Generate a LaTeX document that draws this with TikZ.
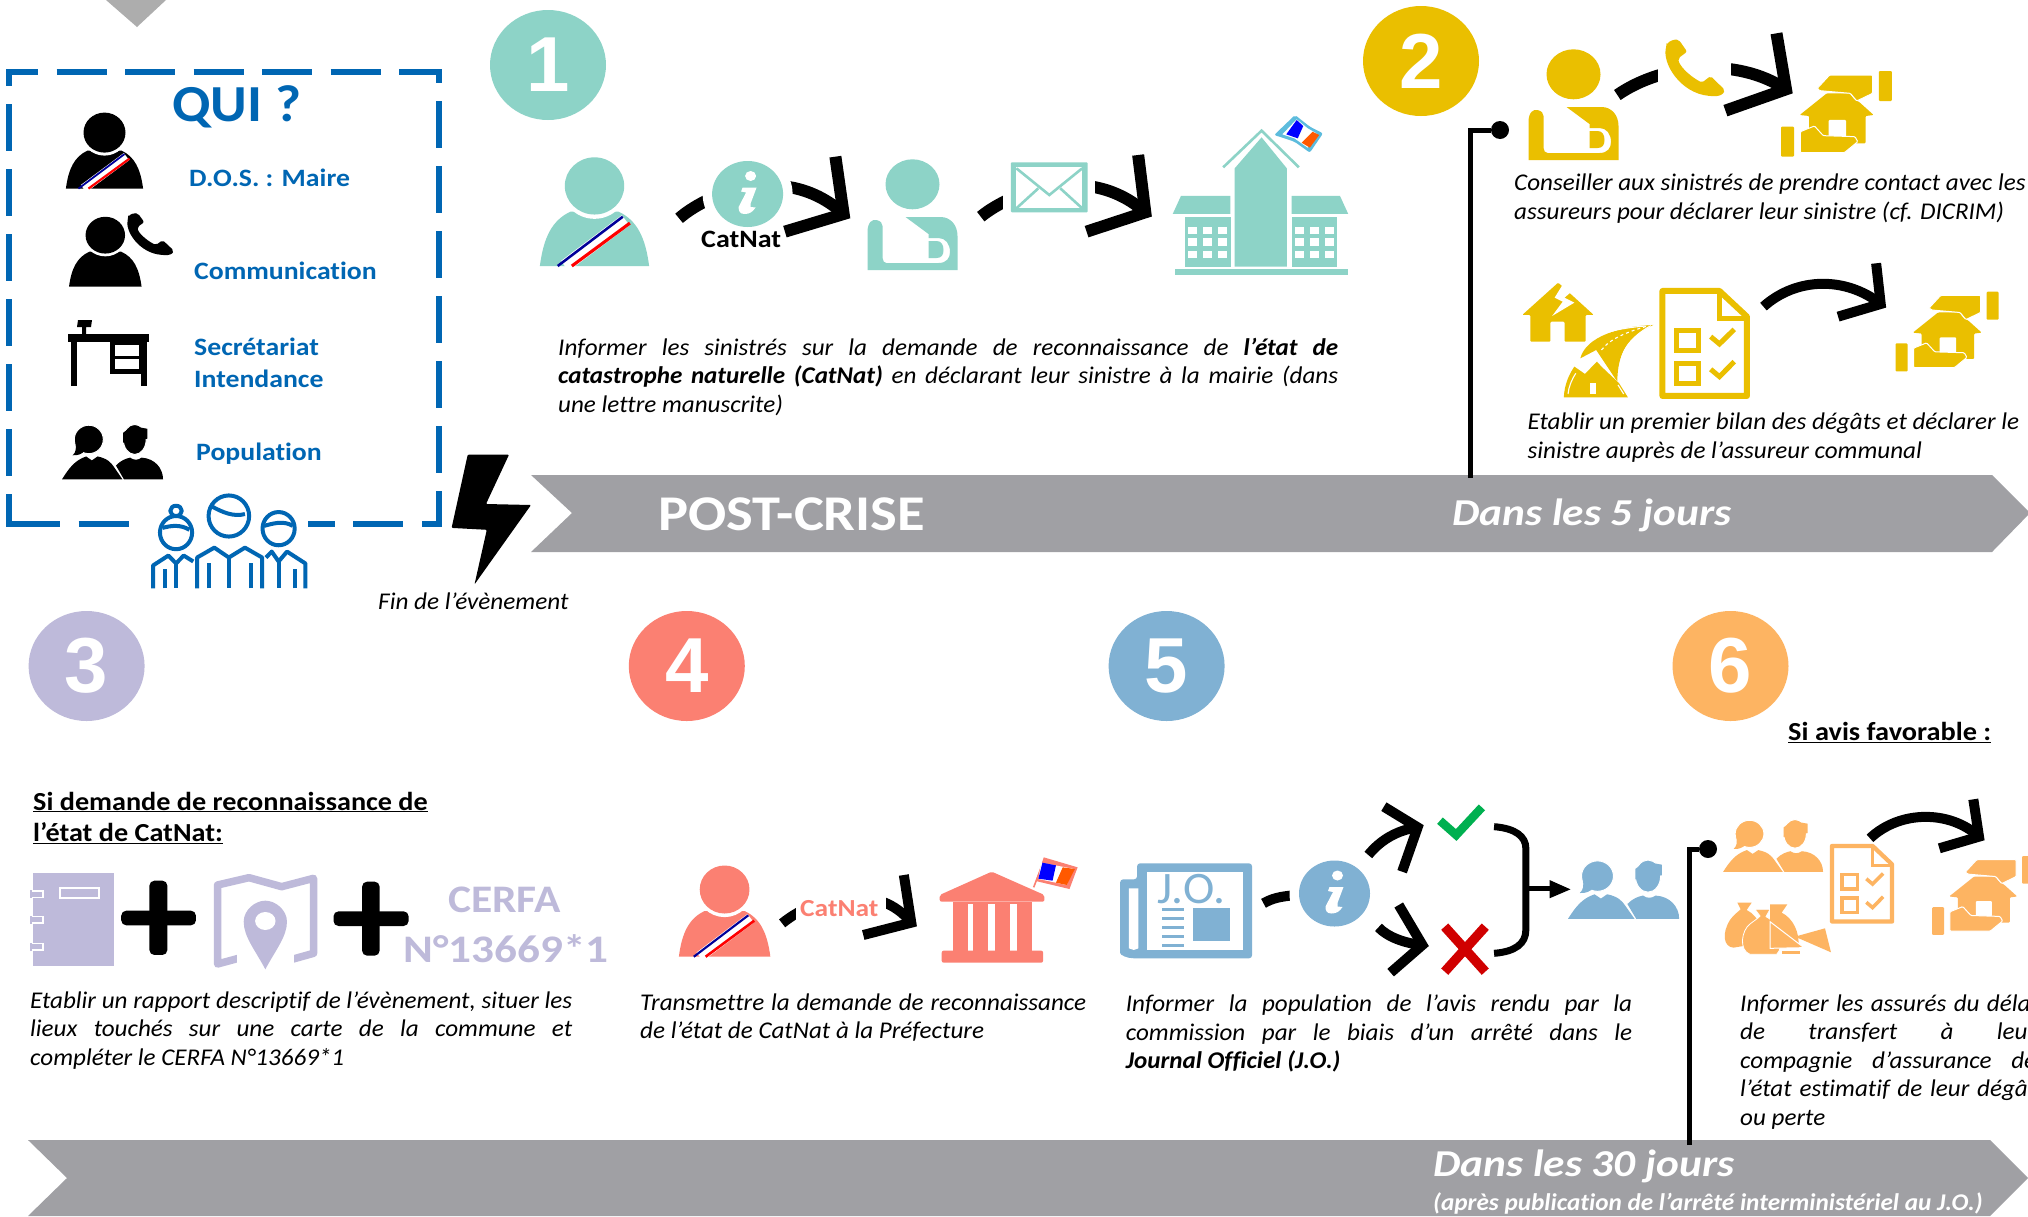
\documentclass[tikz,border=0pt]{standalone}
\usepackage{fontspec}
\setmainfont{Carlito}[Ligatures=NoCommon]
\newfontfamily\libsans{Liberation Sans}
\definecolor{cteal}{HTML}{8DD3C7}
\definecolor{cyel}{HTML}{EABF00}
\definecolor{clav}{HTML}{BEBADA}
\definecolor{csal}{HTML}{FB8072}
\definecolor{cblu}{HTML}{80B1D3}
\definecolor{cora}{HTML}{FDB462}
\definecolor{cband}{HTML}{A0A0A4}
\definecolor{cdark}{HTML}{0066B3}
\definecolor{cgreen}{HTML}{00B050}
\definecolor{cred}{HTML}{D00000}
\definecolor{ctri}{HTML}{ADADAD}
\newcommand\wide[1]{\addfontfeature{FakeStretch=#1}}
\tikzset{
  arrowstroke/.style={draw=black,line width=12pt,miter limit=10},
  thinarrow/.style={draw=black,line width=10pt,miter limit=10},
  boxline/.style={draw=cdark,line width=6pt},
  crowdline/.style={draw=cdark,line width=4pt,line join=round},
  stemline/.style={draw=black,line width=5pt},
  numdisc/.style={ellipse,inner sep=0pt,minimum width=116pt,minimum height=110pt,text=white,font=\libsans\bfseries\fontsize{78}{78}\selectfont},
  lab/.style={anchor=base west,inner sep=0pt},
  quilab/.style={lab,text=cdark,font=\bfseries\fontsize{25}{25}\selectfont\wide{1.11}},
  plainit/.style={lab,font=\itshape\fontsize{24}{28.5}\selectfont\wide{1.045}},
  headlab/.style={lab,font=\bfseries\fontsize{26}{26}\selectfont\wide{1.085}},
  daylab/.style={lab,text=white,font=\bfseries\itshape\fontsize{38}{38}\selectfont\wide{1.14}},
}
\usetikzlibrary{shapes.geometric}
\newcommand\bodytext[5]{% name, x, baseline, width, text
  \node[anchor=north west,inner sep=0pt,text width=#4pt,align=justify,font=\itshape\fontsize{24}{28.5}\selectfont\wide{1.045}] (#1) at (#2,#3-20) {\rule{0pt}{20pt}#5};}
\newcommand\bodyshape[1]{(-38.6,0) .. controls (-36,-20) and (-30,-32) .. (-17,-38) -- (17,-38) .. controls (30,-32) and (36,-20) .. (38.6,0) -- cycle}
\newcommand\persash[5]{% colour x y sx sy
  \begin{scope}[shift={(#2,#3)},xscale=#4,yscale=#5]
    \fill[#1] \bodyshape{};
    \fill[white] (0,-56) ellipse [x radius=23.5,y radius=23];
    \fill[#1] (0,-56) ellipse [x radius=21,y radius=20];
    \draw[white,line width=#4*9pt] (-21,0) -- (22,-32);
    \draw[blue!60!black,line width=#4*1.8pt] (-26,0) -- (20,-34.5);
    \draw[red,line width=#4*2.2pt] (-16,0) -- (25,-30);
  \end{scope}}
\newcommand\perplain[5]{%
  \begin{scope}[shift={(#2,#3)},xscale=#4,yscale=#5]
    \fill[#1] \bodyshape{};
    \fill[white] (0,-56) ellipse [x radius=23.5,y radius=23];
    \fill[#1] (0,-56) ellipse [x radius=21,y radius=20];
  \end{scope}}
\newcommand\persling[3]{% colour x y (bottom centre)
  \begin{scope}[shift={(#2,#3)}]
    \fill[#1] (0,-85.7) ellipse [x radius=27,y radius=25];
    \fill[#1] (-45,0) -- (-45,-38) .. controls (-45,-48) and (-40,-51) .. (-36,-50) .. controls (-32,-49) and (-30,-47) .. (-30,-44) -- (-30,-12) .. controls (-30,-9) and (-28,-7) .. (-26,-7) -- (26,-7) .. controls (34,-7) and (37.5,-12) .. (37.5,-18) .. controls (37.5,-26) and (33,-32) .. (26,-32) -- (16,-32) -- (16,-36) -- (-7,-53) -- (28,-53) .. controls (38,-53) and (45,-45) .. (45,-34) -- (45,0) -- cycle;
    \fill[#1] (16,-29) -- (24,-29) .. controls (29,-29) and (31,-25) .. (31,-20) .. controls (31,-15) and (29,-12) .. (24,-12) -- (16,-12) -- cycle;
  \end{scope}}
\newcommand\househands[4]{% colour x y scale
  \begin{scope}[shift={(#2,#3)},xscale=#4*0.3521,yscale=#4*0.3333,shift={(-855,-213)},rounded corners=1pt]
    \fill[#1] (1133,213) rectangle (1170,303);
    \fill[#1] (855,380) rectangle (892,470);
    \fill[#1] (908,345) -- (985,280) -- (1050,280) -- (1062,297) -- (1078,307) -- (1118,345) -- (1095,348) -- (1095,430) -- (935,430) -- (935,348) -- cycle;
    \fill[white] (990,360) rectangle (1040,410);
    \fill[#1,draw=white,line width=1pt] (958,265) -- (993,225) -- (1115,225) -- (1115,280) -- (1070,303) -- (1052,280) -- (965,272) -- cycle;
    \fill[#1,draw=white,line width=1pt] (910,395) -- (950,378) -- (975,407) -- (1065,410) -- (1073,425) -- (1035,458) -- (910,458) -- cycle;
  \end{scope}}
\newcommand\checklist[5]{% colour x y sx sy
  \begin{scope}[shift={(#2,#3)},xscale=#4*0.3521,yscale=#5*0.3333,shift={(-510,-865)}]
    \draw[#1,line width=#4*6pt,line join=round] (518,873) -- (680,873) -- (758,950) -- (758,1188) -- (518,1188) -- cycle;
    \draw[#1,line width=#4*5pt] (680,873) -- (680,955) -- (758,955);
    \draw[#1,line width=#4*5pt] (558,992) rectangle (620,1052);
    \draw[#1,line width=#4*5pt] (558,1090) rectangle (620,1150);
    \draw[#1,line width=#4*5pt] (655,1010) -- (680,1032) -- (722,988);
    \draw[#1,line width=#4*5pt] (655,1108) -- (680,1130) -- (722,1085);
  \end{scope}}
\newcommand\phonecurve[5]{% colour x y sx sy
  \begin{scope}[shift={(#2,#3)},xscale=#4*0.3521,yscale=#5*0.3333,shift={(-525,-120)}]
    \fill[#1,rounded corners=2pt] (530,135) .. controls (515,190) and (570,280) .. (655,288) .. controls (675,290) and (690,285) .. (695,270) -- (655,228) -- (630,248) .. controls (590,225) and (565,195) .. (563,175) -- (588,155) -- (565,120) .. controls (552,118) and (538,122) .. (530,135) -- cycle;
  \end{scope}}
\newcommand\couplefig[5]{% colour x y sx sy
  \begin{scope}[shift={(#2,#3)},xscale=#4*0.3827,yscale=#5*0.3954,shift={(-162,-1078)}]
    \fill[#1] (162,1213) .. controls (180,1185) and (195,1165) .. (225,1155) -- (240,1165) -- (255,1155) .. controls (280,1160) and (290,1170) .. (298,1182) -- (320,1213) -- cycle;
    \fill[#1] (303,1178) .. controls (315,1165) and (330,1160) .. (340,1158) .. controls (350,1165) and (360,1165) .. (370,1158) .. controls (405,1160) and (426,1185) .. (426,1213) -- (324,1213) -- cycle;
    \fill[#1,draw=white,line width=1pt] (232,1112) ellipse [x radius=38,y radius=36];
    \fill[#1] (197,1120) .. controls (200,1135) and (198,1145) .. (190,1152) .. controls (205,1153) and (215,1148) .. (222,1140) -- cycle;
    \fill[#1,draw=white,line width=1pt] (352,1112) ellipse [x radius=30,y radius=38];
    \fill[#1] (322,1095) -- (345,1078) -- (385,1085) -- (385,1110) -- (322,1120) -- cycle;
  \end{scope}}
\newcommand\infodisc[3]{% colour x y
  \begin{scope}[shift={(#2,#3)}]
    \fill[white] (0,0) ellipse [x radius=45,y radius=42];
    \fill[#1] (0,0) ellipse [x radius=35.5,y radius=33];
    \fill[white] (3,-18) ellipse [x radius=5.5,y radius=5];
    \fill[white] (-5,-6.5) -- (9,-6.5) -- (3,9.5) -- (3,13) -- (8,13.5) .. controls (5,18) and (2,20) .. (-3,20) .. controls (-8,20) and (-9,17) .. (-9,13) -- (-1.5,-1.5) -- (-6.5,-2.5) -- cycle;
  \end{scope}}
\begin{document}
\begin{tikzpicture}[x=1pt,y=-1pt]
\useasboundingbox (0,0) rectangle (2028,1216);
\fill[white] (0,0) rectangle (2028,1216);
% top tab
\fill[ctri] (106,0) -- (166,0) -- (137,27) -- cycle;
% dashed box
\draw[boxline,dash pattern=on 50pt off 18.5pt,dash phase=18pt] (6,71.5) -- (440,71.5);
\draw[boxline,dash pattern=on 46.5pt off 18.5pt,dash phase=30pt] (9,69) -- (9,527);
\draw[boxline,dash pattern=on 46.5pt off 18.5pt,dash phase=33pt] (439,69) -- (439,527);
\draw[boxline] (6,524) -- (60,524) (78.5,524) -- (128.5,524) (308,524) -- (335,524) (353,524) -- (403,524) (422,524) -- (442,524);
\node[lab,text=cdark,font=\bfseries\fontsize{52}{52}\selectfont\wide{1.08}] (qui) at (172,121) {QUI ?};
\node[quilab] (dos) at (189,186) {D.O.S. : Maire};
\node[quilab] (comm) at (194,279) {Communication};
\node[quilab] (sec) at (194,355.5) {Secrétariat};
\node[quilab] (int) at (194,387.5) {Intendance};
\node[quilab] (pop) at (196,460) {Population};
\persash{black}{104.5}{188.6}{1}{1}
\perplain{black}{105.3}{286.7}{0.94}{0.92}
\phonecurve{black}{127}{213.5}{0.78}{0.74}
% desk
\fill[black] (68,334) rectangle (148.5,342);
\fill[black] (71,342) rectangle (76.5,385.5);
\fill[black] (141,342) rectangle (146.6,385.5);
\fill[black] (110,342) rectangle (146,374);
\fill[white] (115,345) rectangle (139,356);
\fill[white] (115,359) rectangle (139,369);
\fill[black] (78,320) -- (92,320) -- (91,327) -- (86,327) -- (86,334) -- (82,334) -- (82,327) -- (77,327) -- cycle;
\couplefig{black}{62}{426}{1}{1}
% crowd
\begin{scope}[xscale=0.3827,yscale=0.3954]
  \draw[crowdline] (598,1305) ellipse [x radius=53,y radius=52];
  \draw[crowdline] (552,1280) .. controls (580,1295) and (610,1308) .. (640,1300);
  \draw[crowdline] (515,1488) -- (515,1410) -- (560,1385) -- (598,1410) -- (640,1385) -- (685,1410) -- (685,1488);
  \draw[crowdline] (598,1410) -- (598,1488) (545,1488) -- (545,1425) (655,1488) -- (655,1425);
  \draw[crowdline] (460,1347) ellipse [x radius=42,y radius=42];
  \draw[crowdline] (460,1292) ellipse [x radius=15,y radius=13];
  \draw[crowdline] (425,1335) .. controls (445,1330) and (470,1325) .. (495,1340);
  \draw[crowdline] (400,1488) -- (400,1430) -- (440,1405) -- (460,1425) -- (480,1405) -- (505,1420);
  \draw[crowdline] (460,1425) -- (460,1488) (430,1488) -- (430,1440);
  \draw[crowdline] (728,1337) ellipse [x radius=42,y radius=42];
  \draw[crowdline] (690,1330) .. controls (710,1325) and (740,1315) .. (765,1330);
  \draw[crowdline] (695,1410) -- (710,1395) -- (728,1420) -- (750,1395) -- (798,1425) -- (798,1488);
  \draw[crowdline] (728,1420) -- (728,1488) (770,1488) -- (770,1440);
\end{scope}
% lightning
\fill[black,rounded corners=1pt] (467.7,454.7) -- (509,454.7) -- (486,504) -- (531,505) -- (474.5,584.4) -- (486.8,529.8) -- (451.6,527.9) -- cycle;
\node[lab,font=\itshape\fontsize{24}{28}\selectfont\wide{1.05}] (fin) at (378,609) {Fin de l’évènement};
% bands
\fill[cband] (531,475) -- (1992,475) -- (2030,513) -- (1992,552) -- (531,552) -- (572,513) -- cycle;
\fill[cband] (28,1140) -- (1990,1140) -- (2028,1178) -- (1990,1216) -- (28,1216) -- (67,1178) -- cycle;
\node[lab,text=white,font=\bfseries\fontsize{50}{50}\selectfont\wide{1.13}] (post) at (658,530) {POST-CRISE};
\node[daylab] (d5) at (1452,525) {Dans les 5 jours};
\node[daylab] (d30) at (1433,1176) {Dans les 30 jours};
\node[lab,text=white,font=\bfseries\itshape\fontsize{24}{24}\selectfont\wide{1.05}] (d30b) at (1433,1210) {(après publication de l’arrêté interministériel au J.O.)};
% stems
\node[circle,fill=black,inner sep=0pt,minimum size=18pt] (dot1) at (1500,130) {};
\coordinate (foot1) at (1470,478);
\draw[stemline] (foot1) |- (dot1);
\node[circle,fill=black,inner sep=0pt,minimum size=18pt] (dot2) at (1708,849) {};
\coordinate (foot2) at (1689.7,1145);
\draw[stemline] (foot2) |- (dot2);
% number discs
\node[numdisc,fill=cteal] (n1) at (548,65) {1};
\node[numdisc,fill=cyel] (n2) at (1421,61) {2};
\node[numdisc,fill=clav] (n3) at (86.6,666) {3};
\node[numdisc,fill=csal] (n4) at (686.8,666) {4};
\node[numdisc,fill=cblu] (n5) at (1166.6,666) {5};
\node[numdisc,fill=cora] (n6) at (1730.5,666) {6};
% panel 1
\persash{cteal}{594.5}{266}{1.415}{1.43}
\persling{cteal}{912.5}{270}
\begin{scope}[shift={(520,100)},xscale=0.5485,yscale=0.3333]
  \draw[arrowstroke] (290,355) .. controls (350,270) and (490,190) .. (590,342);
  \draw[arrowstroke] (575,170) -- (590,342) -- (483,395);
  \draw[arrowstroke] (840,350) .. controls (900,270) and (1040,190) .. (1140,337);
  \draw[arrowstroke] (1127,165) -- (1140,337) -- (1033,395);
  \fill[white] (880,170) rectangle (1048,350);
  % envelope
  \fill[cteal,rounded corners=1pt] (895,187) rectangle (1035,337);
  \fill[white] (905,200) rectangle (1025,325);
  \draw[cteal,line width=2.6pt] (905,205) -- (965,285) -- (1025,205);
  \draw[cteal,line width=2.6pt] (905,325) -- (945,265) (1025,325) -- (985,265);
  % mairie
  \fill[cteal] (1303,205) -- (1352,112) -- (1398,205) -- (1398,500) -- (1303,500) -- cycle;
  \draw[cteal,line width=2.6pt] (1282,202) -- (1352,92) -- (1420,202);
  \fill[cteal] (1205,288) -- (1295,288) -- (1295,342) -- (1190,342) -- cycle;
  \fill[cteal] (1407,288) -- (1495,288) -- (1510,342) -- (1407,342) -- cycle;
  \fill[cteal] (1212,352) rectangle (1296,500);
  \fill[cteal] (1407,352) rectangle (1490,500);
  \fill[cteal] (1195,507) rectangle (1510,524);
  \foreach \wx in {1218,1245,1272,1413,1440,1467}
    \foreach \wy in {380,415,452}
      \fill[white] (\wx,\wy) rectangle ++(17,22);
  % flag
  \fill[cyan!45!cteal,rounded corners=2pt] (1413,45) -- (1440,80) -- (1464,100) -- (1440,158) -- (1412,125) -- (1375,105) -- cycle;
  \fill[white] (1416,58) -- (1436,85) -- (1452,100) -- (1436,143) -- (1412,115) -- (1390,103) -- cycle;
  \fill[blue] (1416,60) -- (1428,78) -- (1418,115) -- (1397,103) -- cycle;
  \fill[orange!70!red] (1445,95) -- (1457,105) -- (1440,143) -- (1425,128) -- cycle;
\end{scope}
\infodisc{cteal}{747.6}{194}
\node[lab,font=\bfseries\fontsize{25}{25}\selectfont\wide{1.12}] (cat1) at (701,247.6) {CatNat};
\bodytext{t1}{558}{355}{780}{Informer les sinistrés sur la demande de reconnaissance de \textbf{l’état de}\linebreak \textbf{catastrophe naturelle (CatNat)} en déclarant leur sinistre à la mairie (dans\linebreak une lettre manuscrite)}
% panel 2
\persling{cyel}{1573.5}{160}
\begin{scope}[shift={(1480,0)},xscale=0.3521,yscale=0.3333]
  \draw[arrowstroke] (390,285) .. controls (520,190) and (730,170) .. (869,268);
  \draw[arrowstroke] (842,100) -- (869,268) -- (697,332);
  \fill[white] (505,100) rectangle (712,300);
  \draw[thinarrow] (805,920) .. controls (900,830) and (1040,830) .. (1138,912);
  \draw[thinarrow] (1125,790) -- (1138,912) -- (1017,950);
  % broken house
  \fill[cyel,rounded corners=1pt] (120,945) -- (222,848) -- (323,945) -- (300,945) -- (300,1025) -- (240,1025) -- (240,965) -- (200,965) -- (200,1025) -- (143,1025) -- (143,945) -- cycle;
  \fill[white] (240,845) -- (212,893) -- (235,905) -- (205,948) -- (268,908) -- (240,893) -- (262,873) -- cycle;
  % road
  \fill[cyel] (492,975) .. controls (400,978) and (300,1010) .. (285,1075) -- (330,1050) -- (390,1145) .. controls (390,1060) and (420,1010) .. (492,975) -- cycle;
  \fill[cyel] (268,1100) -- (298,1122) -- (332,1085) -- (345,1100) -- (395,1150) -- (420,1192) -- (238,1192) .. controls (240,1150) and (255,1120) .. (268,1100) -- cycle;
  \draw[white,line width=1.1pt] (300,1035) .. controls (330,1000) and (390,985) .. (470,978);
  \draw[white,line width=1.1pt,dashed] (345,1050) .. controls (370,1015) and (420,995) .. (480,977);
  \draw[white,line width=1.1pt] (398,1100) .. controls (400,1050) and (430,1010) .. (485,977);
  \draw[white,line width=1.1pt] (250,1182) .. controls (252,1160) and (260,1140) .. (272,1120);
  \draw[white,line width=1.1pt] (408,1182) -- (392,1155);
  \fill[white] (312,1148) rectangle (328,1183);
\end{scope}
\phonecurve{cyel}{1664.9}{40}{1}{1}
\househands{cyel}{1781}{71}{1}
\checklist{cyel}{1659.6}{288.3}{1}{1}
\househands{cyel}{1895.5}{291.7}{0.93}
\node[plainit] (t2a) at (1514,190) {Conseiller aux sinistrés de prendre contact avec les};
\node[plainit] (t2a2) at (1514,219) {assureurs pour déclarer leur sinistre (cf. DICRIM)};
\node[plainit] (t2b) at (1527.5,429) {Etablir un premier bilan des dégâts et déclarer le};
\node[plainit] (t2b2) at (1527.5,458) {sinistre auprès de l’assureur communal};
% panel 3
\node[headlab] (h3) at (33,810) {\underline{Si demande de reconnaissance de}};
\node[headlab] (h3b) at (33,841.7) {\underline{l’état de CatNat:}};
\begin{scope}[shift={(0,780)},xscale=0.4082,yscale=0.3333]
  % notebook
  \fill[clav] (82,280) rectangle (280,557);
  \foreach \ty in {330,407,488} {
    \fill[clav] (73,\ty) rectangle (108,\ty+25);
    \draw[white,line width=1.3pt] (78,\ty+3) -- (105,\ty+3) -- (105,\ty+22) -- (78,\ty+22);
  }
  \draw[white,line width=2pt] (147,325) rectangle (242,355);
  % plus
  \fill[black,rounded corners=5pt] (297,392) rectangle (480,436);
  \fill[black,rounded corners=5pt] (366,302) rectangle (410,525);
  \fill[black,rounded corners=5pt] (817,394) rectangle (1001,438);
  \fill[black,rounded corners=5pt] (887,305) rectangle (930,527);
  % map
  \draw[clav,line width=7.5pt,line join=round] (605,528) -- (533,552) -- (533,315) -- (610,293) -- (690,320) -- (768,295) -- (768,520) -- (695,545);
  \fill[white] (580,345) rectangle (720,575);
  \fill[clav] (650,568) .. controls (625,510) and (597,470) .. (597,425) .. controls (597,390) and (625,362) .. (650,362) .. controls (675,362) and (703,390) .. (703,425) .. controls (703,470) and (675,510) .. (650,568) -- cycle;
  \fill[white] (650,423) ellipse [x radius=25,y radius=27];
\end{scope}
\node[lab,text=clav,font=\bfseries\fontsize{39}{39}\selectfont\wide{1.115}] (cerfa) at (448,912.7) {CERFA};
\node[lab,text=clav,font=\bfseries\fontsize{39}{39}\selectfont\wide{1.16}] (cerfb) at (403,962.7) {N°13669*1};
\bodytext{t3}{30}{1008}{542}{Etablir un rapport descriptif de l’évènement, situer les\linebreak lieux touchés sur une carte de la commune et\linebreak compléter le CERFA N°13669*1}
% panel 4
\persash{csal}{724.6}{956.7}{1.185}{1.2}
\begin{scope}[shift={(630,780)},xscale=0.6761,yscale=0.3333]
  \draw[thinarrow] (225,430) .. controls (280,340) and (370,310) .. (416,428);
  \draw[thinarrow] (405,285) -- (416,428) -- (345,465);
  \fill[white] (245,305) rectangle (378,425);
  % temple
  \fill[csal,rounded corners=2pt] (458,345) -- (535,275) -- (613,345) -- (613,365) -- (458,365) -- cycle;
  \fill[csal] (478,365) rectangle (595,512);
  \fill[white] (500,372) rectangle (508,512);
  \fill[white] (530,372) rectangle (540,512);
  \fill[white] (562,372) rectangle (572,512);
  \fill[csal,rounded corners=2pt] (461,512) rectangle (611,548);
  % flag
  \draw[csal,line width=1.6pt] (597,322) -- (613,238);
  \fill[csal] (612,232) -- (662,262) -- (650,327) -- (600,303) -- cycle;
  \fill[white] (608,248) -- (655,266) -- (646,315) -- (604,297) -- cycle;
  \fill[blue] (610,248) -- (630,256) -- (625,302) -- (604,296) -- cycle;
  \fill[orange!70!red] (640,262) -- (658,267) -- (646,315) -- (630,308) -- cycle;
  % newspaper
  \fill[cblu,rounded corners=3pt] (750,250) -- (920,250) -- (920,535) -- (750,535) .. controls (735,535) and (725,525) .. (725,510) -- (725,298) -- (750,298) -- cycle;
  \fill[white] (765,275) rectangle (907,510);
  \fill[white] (738,325) -- (752,325) -- (752,505) -- (745,510) -- (738,505) -- cycle;
  \foreach \ly in {384,411,438,465,492} \fill[cblu] (787,\ly) rectangle (820,\ly+8);
  \fill[cblu] (833,385) rectangle (888,482);
  % decision arrows
  \draw[thinarrow] (937,370) .. controls (950,355) and (960,350) .. (985,345);
  \draw[thinarrow] (1092,225) .. controls (1110,180) and (1135,150) .. (1165,142);
  \draw[thinarrow] (1115,80) -- (1165,142) -- (1142,275);
  \draw[thinarrow] (1107,442) .. controls (1120,470) and (1145,490) .. (1172,495);
  \draw[thinarrow] (1137,375) -- (1172,495) -- (1125,578);
  \draw[cgreen,line width=8.5pt] (1198,122) -- (1222,165) -- (1260,82);
  \draw[cred,line width=9.5pt] (1205,440) -- (1265,575) (1265,440) -- (1205,575);
  \draw[black,line width=7pt] (1278,140) .. controls (1310,145) and (1325,170) .. (1325,205) -- (1325,450) .. controls (1325,490) and (1310,515) .. (1278,520);
  \draw[black,line width=5pt] (1325,325) -- (1365,325);
  \fill[black] (1360,300) -- (1391,328) -- (1360,355) -- cycle;
\end{scope}
\node[lab,text=cblu,font=\fontsize{45}{45}\selectfont\wide{1.05}] (jo) at (1157,903) {J.O.};
\infodisc{cblu}{1334.5}{893.5}
\node[lab,text=csal,font=\bfseries\fontsize{24.5}{24.5}\selectfont\wide{1.12}] (cat2) at (800,916) {CatNat};
\couplefig{cblu}{1568}{861.7}{1.1}{1.07}
\bodytext{t4}{640}{1010}{446}{Transmettre la demande de reconnaissance\linebreak de l’état de CatNat à la Préfecture}
\bodytext{t5}{1125.6}{1011.7}{506.4}{Informer la population de l’avis rendu par la\linebreak commission par le biais d’un arrêté dans le\linebreak \textbf{Journal Officiel (J.O.)}}
% panel 6
\node[lab,font=\bfseries\fontsize{26}{26}\selectfont\wide{1.09}] (h6) at (1788,740.7) {\underline{Si avis favorable :}};
\couplefig{cora}{1723}{821}{0.99}{0.955}
\checklist{cora}{1830}{844}{0.711}{0.72}
\begin{scope}[shift={(1650,720)},xscale=0.3333,yscale=0.3333]
  \draw[thinarrow] (660,355) .. controls (750,270) and (900,270) .. (987,350);
  \draw[thinarrow] (970,238) -- (987,350) -- (868,385);
  % bags
  \fill[cora] (262,548) -- (305,548) -- (290,570) .. controls (330,590) and (345,640) .. (330,670) -- (250,683) .. controls (220,680) and (215,640) .. (240,600) .. controls (250,585) and (265,575) .. (272,568) -- cycle;
  \fill[cora,draw=white,line width=0.8pt] (315,568) -- (360,568) -- (348,590) .. controls (390,610) and (405,680) .. (380,703) -- (300,703) .. controls (265,690) and (275,630) .. (300,612) .. controls (315,600) and (325,595) .. (330,588) -- cycle;
  \fill[cora] (360,553) -- (412,553) -- (395,578) .. controls (430,595) and (450,640) .. (445,680) -- (360,680) -- cycle;
  \fill[cora,draw=white,line width=1pt] (360,605) -- (462,683) -- (360,685) -- cycle;
  \fill[cora] (435,650) -- (525,625) -- (543,697) -- cycle;
  \fill[cora] (395,693) -- (450,693) -- (450,703) -- (395,703) -- cycle;
\end{scope}
\househands{cora}{1932}{856}{0.92}
\bodytext{t6}{1740}{1011}{296}{Informer les assurés du délai\linebreak de transfert à leur\linebreak compagnie d’assurance de\linebreak l’état estimatif de leur dégât\linebreak ou perte}
\end{tikzpicture}
\end{document}
